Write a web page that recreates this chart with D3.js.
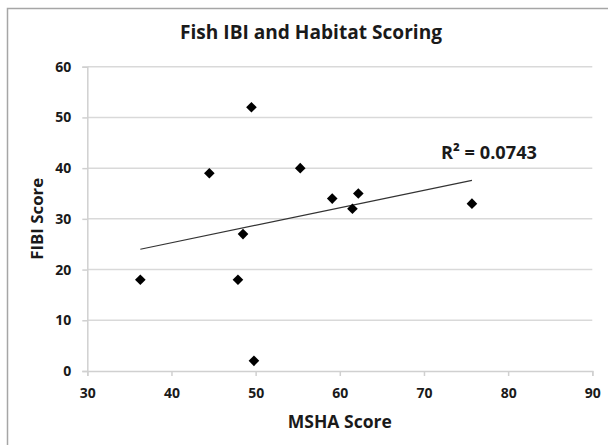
<!DOCTYPE html>
<html>
<head>
<meta charset="utf-8">
<script src="https://cdn.jsdelivr.net/npm/d3@7"></script>
<style>
  html, body { margin: 0; padding: 0; background: #fff; }
  svg { display: block; }
  text { font-family: "Open Sans", Lato, sans-serif; font-weight: bold; fill: #1a1a1a; }
</style>
</head>
<body>
<svg id="chart" width="608" height="445"></svg>
<script>
// ---- data ----
const mshaScores = [36.3, 44.5, 49.5, 48.5, 47.9, 55.3, 59.1, 62.2, 61.5, 75.7, 49.8];
const fibiScores = [18, 39, 52, 27, 18, 40, 34, 35, 32, 33, 2];
const xTicks = [30, 40, 50, 60, 70, 80, 90];
const yTicks = [0, 10, 20, 30, 40, 50, 60];
const chartTitle = "Fish IBI and Habitat Scoring";
const xTitle = "MSHA Score";
const yTitle = "FIBI Score";
const r2Label = "R² = 0.0743";

// ---- layout ----
const svg = d3.select("#chart");
const plotLeft = 87.3, plotRight = 592.3, plotTop = 66.7, plotBottom = 371;
const x = d3.scaleLinear().domain([30, 90]).range([plotLeft, plotRight]);
const y = d3.scaleLinear().domain([0, 60]).range([plotBottom, plotTop]);

// fit a text element's font size to a target width
function fitWidth(sel, target) {
  const node = sel.node();
  const base = parseFloat(sel.style("font-size"));
  const w = node.getComputedTextLength();
  if (w > 0) sel.style("font-size", (base * target / w).toFixed(2) + "px");
  return sel;
}

// outer border
svg.append("rect").attr("x", 7.5).attr("y", 8.5).attr("width", 640).attr("height", 480)
  .attr("fill", "none").attr("stroke", "#a6a6a6").attr("stroke-width", 1.5);

// gridlines
svg.append("g").selectAll("line").data(yTicks.filter(d => d > 0)).join("line")
  .attr("x1", plotLeft).attr("x2", plotRight)
  .attr("y1", d => y(d)).attr("y2", d => y(d))
  .attr("stroke", "#d9d9d9").attr("stroke-width", 1.5);

// y axis
const yAxis = svg.append("g").attr("transform", `translate(${plotLeft},0)`)
  .call(d3.axisLeft(y).tickValues(yTicks).tickSize(5).tickPadding(11).tickFormat(d3.format("d")));
yAxis.select(".domain").attr("stroke", "#d0d0d0").attr("stroke-width", 1.5);
yAxis.selectAll(".tick line").attr("stroke", "#d0d0d0").attr("stroke-width", 1.5);
yAxis.selectAll(".tick text").style("font-size", "14px").attr("fill", "#1a1a1a")
  .style("font-family", "'Open Sans', sans-serif").style("font-weight", "bold");

// x axis
const xAxis = svg.append("g").attr("transform", `translate(0,${plotBottom})`)
  .call(d3.axisBottom(x).tickValues(xTicks).tickSize(5).tickPadding(12).tickFormat(d3.format("d")));
xAxis.select(".domain").attr("stroke", "#d0d0d0").attr("stroke-width", 1.5);
xAxis.selectAll(".tick line").attr("stroke", "#d0d0d0").attr("stroke-width", 1.5);
xAxis.selectAll(".tick text").style("font-size", "14px").attr("fill", "#1a1a1a")
  .style("font-family", "'Open Sans', sans-serif").style("font-weight", "bold");

// linear regression trendline
const n = mshaScores.length;
const mx = d3.mean(mshaScores), my = d3.mean(fibiScores);
let sxy = 0, sxx = 0;
for (let i = 0; i < n; i++) { sxy += (mshaScores[i] - mx) * (fibiScores[i] - my); sxx += (mshaScores[i] - mx) ** 2; }
const slope = sxy / sxx, intercept = my - slope * mx;
const [xmin, xmax] = d3.extent(mshaScores);
svg.append("line")
  .attr("x1", x(xmin)).attr("y1", y(intercept + slope * xmin))
  .attr("x2", x(xmax)).attr("y2", y(intercept + slope * xmax))
  .attr("stroke", "#333").attr("stroke-width", 1.2);

// points
svg.append("g").selectAll("path").data(mshaScores.map((v, i) => [v, fibiScores[i]])).join("path")
  .attr("d", d3.symbol(d3.symbolDiamond2, 72))
  .attr("transform", d => `translate(${x(d[0])},${y(d[1])})`)
  .attr("fill", "#000");

// titles
fitWidth(svg.append("text").attr("x", 311).attr("y", 39).attr("text-anchor", "middle")
  .style("font-size", "16px").text(chartTitle), 262);
fitWidth(svg.append("text").attr("x", (plotLeft + plotRight) / 2).attr("y", 428).attr("text-anchor", "middle")
  .style("font-size", "14px").text(xTitle), 104);
fitWidth(svg.append("text").attr("transform", `translate(43,${(plotTop + plotBottom) / 2}) rotate(-90)`)
  .attr("text-anchor", "middle").style("font-size", "14px").text(yTitle), 82);
fitWidth(svg.append("text").attr("x", 441).attr("y", 159).style("font-size", "14px").text(r2Label), 96);
</script>
</body>
</html>
